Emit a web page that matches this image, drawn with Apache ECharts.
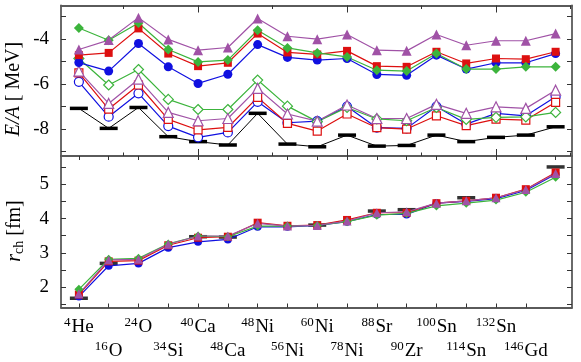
<!DOCTYPE html>
<html>
<head>
<meta charset="utf-8">
<script src="https://cdn.jsdelivr.net/npm/echarts@6/dist/echarts.min.js"></script>
<style>
  html, body { margin: 0; padding: 0; background: #fff; }
  #chart { width: 581px; height: 362px; }
</style>
</head>
<body>
<div id="chart"></div>
<script>
// nuclei along the x axis
const massNumbers = ['4', '16', '24', '34', '40', '48', '48', '56', '60', '78', '88', '90', '100', '114', '132', '146', '208']
const elements = ['He', 'O', 'O', 'Si', 'Ca', 'Ca', 'Ni', 'Ni', 'Ni', 'Ni', 'Sr', 'Zr', 'Sn', 'Sn', 'Sn', 'Gd', 'Pb']

// top panel: E/A [MeV]
const expE = [-7.08, -7.97, -7.04, -8.34, -8.56, -8.71, -7.30, -8.67, -8.79, -8.27, -8.76, -8.73, -8.27, -8.56, -8.37, -8.27, -7.90]
const blueFilledE = [-5.04, -5.42, -4.19, -5.23, -5.97, -5.56, -4.24, -4.81, -4.93, -4.86, -5.57, -5.61, -4.71, -5.33, -5.05, -5.05, -4.64]
const redFilledE = [-4.71, -4.61, -3.52, -4.64, -5.20, -5.05, -3.75, -4.59, -4.68, -4.52, -5.20, -5.23, -4.56, -5.08, -4.86, -4.89, -4.56]
const greenFilledE = [-3.50, -4.05, -3.28, -4.46, -5.01, -4.93, -3.60, -4.39, -4.61, -4.79, -5.38, -5.42, -4.64, -5.33, -5.33, -5.23, -5.23]
const purpleFilledE = [-4.46, -4.04, -3.04, -4.01, -4.49, -4.37, -3.08, -3.87, -4.00, -3.79, -4.49, -4.52, -3.79, -4.27, -4.07, -4.07, -3.75]
const blueOpenE = [-5.90, -7.45, -6.41, -7.87, -8.37, -8.15, -6.79, -7.72, -7.65, -7.00, -7.94, -7.97, -7.00, -7.78, -7.30, -7.41, -6.56]
const redOpenE = [-5.50, -7.11, -6.04, -7.57, -8.04, -7.93, -6.59, -7.75, -8.09, -7.33, -7.94, -8.00, -7.41, -7.85, -7.56, -7.60, -6.81]
const greenOpenE = [-4.86, -6.04, -5.35, -6.68, -7.13, -7.13, -5.82, -6.98, -7.67, -7.04, -7.55, -7.63, -7.04, -7.57, -7.48, -7.46, -7.26]
const purpleOpenE = [-5.42, -6.86, -5.78, -7.26, -7.63, -7.53, -6.19, -7.33, -7.65, -6.93, -7.53, -7.53, -6.90, -7.30, -7.01, -7.08, -6.27]

// bottom panel: r_ch [fm]
const expR = [1.67, 2.69, null, null, 3.47, 3.46, null, null, 3.81, null, 4.22, 4.26, null, 4.61, null, null, 5.51]
const blueR = [1.72, 2.62, 2.69, 3.15, 3.32, 3.39, 3.76, 3.76, 3.80, 3.91, 4.12, 4.12, 4.45, 4.50, 4.58, 4.82, 5.30]
const redR = [1.78, 2.75, 2.77, 3.22, 3.44, 3.47, 3.88, 3.79, 3.81, 3.96, 4.17, 4.17, 4.45, 4.52, 4.61, 4.86, 5.35]
const greenR = [1.93, 2.81, 2.84, 3.26, 3.49, 3.47, 3.78, 3.78, 3.80, 3.91, 4.10, 4.15, 4.37, 4.45, 4.54, 4.77, 5.21]
const purpleR = [1.80, 2.79, 2.81, 3.25, 3.49, 3.49, 3.86, 3.78, 3.80, 3.93, 4.17, 4.20, 4.45, 4.52, 4.61, 4.85, 5.32]

// tick positions
const topMajorTicks = [4, 9, 14]
const topMinorTicks = [1.5, 6.5, 11.5, 16.5]
const nucleusTicks = massNumbers.map((m, i) => i)
const eTicks = [-9, -8, -7, -6, -5, -4, -3]
const eLabels = [-8, -6, -4]
const rTicks = [1.5, 2, 2.5, 3, 3.5, 4, 4.5, 5, 5.5]
const rLabels = [2, 3, 4, 5]

const font = 'Liberation Serif'
const frame = '#5a5a5a'
const blue = '#1010e0'
const red = '#dd1010'
const green = '#3cb43c'
const purple = '#a052a6'
const xMin = -0.6
const xMax = 16.55

function pts(values) {
  const out = []
  values.forEach((v, i) => {
    if (v !== null) out.push([i, v])
  })
  return out
}

function theory(values, color, symbol, size, open, xIdx, yIdx) {
  return {
    type: 'line',
    xAxisIndex: xIdx,
    yAxisIndex: yIdx,
    data: pts(values),
    symbol: symbol,
    symbolSize: size,
    lineStyle: { color: color, width: 1.2 },
    itemStyle: open
      ? { color: '#fff', borderColor: color, borderWidth: 1.2 }
      : { color: color, borderColor: color, borderWidth: 0 },
    animation: false
  }
}

function xTicks(grid, pos, ticks, len, showLine) {
  return {
    type: 'value',
    gridIndex: grid,
    position: pos,
    min: xMin,
    max: xMax,
    axisLine: { show: showLine, onZero: false, lineStyle: { color: frame, width: 1.8 } },
    axisTick: { show: true, inside: true, length: len, customValues: ticks, lineStyle: { color: '#333', width: 1 } },
    axisLabel: { show: false },
    splitLine: { show: false }
  }
}

function yTicks(grid, pos, min, max, ticks, labels) {
  return {
    type: 'value',
    gridIndex: grid,
    position: pos,
    min: min,
    max: max,
    axisLine: { show: true, onZero: false, lineStyle: { color: frame, width: 1.8 } },
    axisTick: { show: true, inside: true, length: 5, customValues: ticks, lineStyle: { color: '#333', width: 1 } },
    axisLabel: labels
      ? { show: true, customValues: labels, margin: 12, color: '#000', fontFamily: font, fontSize: 19 }
      : { show: false },
    splitLine: { show: false }
  }
}

// rotated y axis titles
function yTitle(text, x, y) {
  return {
    type: 'text',
    x: x,
    y: y,
    rotation: Math.PI / 2,
    style: {
      text: text,
      align: 'center',
      verticalAlign: 'middle',
      fill: '#000',
      font: '20px "Liberation Serif"',
      rich: {
        i: { fontFamily: font, fontSize: 20, fontStyle: 'italic', fill: '#000' },
        n: { fontFamily: font, fontSize: 20, fill: '#000' },
        sub: { fontFamily: font, fontSize: 14, fill: '#000', padding: [8, 0, 0, 0] }
      }
    }
  }
}

const labelAxis = xTicks(1, 'bottom', nucleusTicks, 4, true)
labelAxis.axisLabel = {
  show: true,
  customValues: nucleusTicks,
  margin: 8,
  lineHeight: 24,
  color: '#000',
  fontFamily: font,
  fontSize: 19,
  formatter: function (value) {
    const i = Math.round(value)
    return (i % 2 ? '\n' : '') + '{sup|' + massNumbers[i] + '}{el|' + elements[i] + '}'
  },
  rich: {
    sup: { fontFamily: font, fontSize: 13, color: '#000', padding: [0, 1, 10, 0] },
    el: { fontFamily: font, fontSize: 19, color: '#000' }
  }
}

const chart = echarts.init(document.getElementById('chart'))

chart.setOption({
  animation: false,
  backgroundColor: '#fff',
  grid: [
    { left: 61, right: 9, top: 5.5, height: 150.5, outerBoundsMode: 'none' },
    { left: 61, right: 9, top: 156, height: 151.5, outerBoundsMode: 'none' }
  ],
  graphic: [
    yTitle('{i|E/A}{n| [ MeV]}', 14, 89),
    yTitle('{i|r}{sub|ch}{n| [fm]}', 15, 231)
  ],
  xAxis: [
    xTicks(0, 'bottom', topMajorTicks, 7, true),
    xTicks(0, 'bottom', topMinorTicks, 3.5, false),
    xTicks(0, 'top', topMajorTicks, 7, true),
    xTicks(0, 'top', topMinorTicks, 3.5, false),
    labelAxis,
    xTicks(1, 'top', nucleusTicks, 4, true)
  ],
  yAxis: [
    yTicks(0, 'left', -9.2, -2.5, eTicks, eLabels),
    yTicks(0, 'right', -9.2, -2.5, eTicks, null),
    yTicks(1, 'left', 1.4, 5.83, rTicks, rLabels),
    yTicks(1, 'right', 1.4, 5.83, rTicks, null)
  ],
  series: [
    {
      type: 'line',
      xAxisIndex: 0,
      yAxisIndex: 0,
      data: pts(expE),
      symbol: 'rect',
      symbolSize: [18, 3.5],
      lineStyle: { color: '#000', width: 1 },
      itemStyle: { color: '#000' }
    },
    theory(blueOpenE, blue, 'circle', 9, true, 0, 0),
    theory(redOpenE, red, 'rect', 8, true, 0, 0),
    theory(greenOpenE, green, 'diamond', 10, true, 0, 0),
    theory(purpleOpenE, purple, 'triangle', 10, true, 0, 0),
    theory(blueFilledE, blue, 'circle', 9, false, 0, 0),
    theory(redFilledE, red, 'rect', 8, false, 0, 0),
    theory(greenFilledE, green, 'diamond', 10, false, 0, 0),
    theory(purpleFilledE, purple, 'triangle', 10, false, 0, 0),
    {
      type: 'scatter',
      xAxisIndex: 4,
      yAxisIndex: 2,
      data: pts(expR),
      symbol: 'rect',
      symbolSize: [18, 3.5],
      itemStyle: { color: '#000' }
    },
    theory(blueR, blue, 'circle', 8, false, 4, 2),
    theory(redR, red, 'rect', 8, false, 4, 2),
    theory(greenR, green, 'diamond', 9, false, 4, 2),
    theory(purpleR, purple, 'triangle', 9, false, 4, 2)
  ]
})
</script>
</body>
</html>
